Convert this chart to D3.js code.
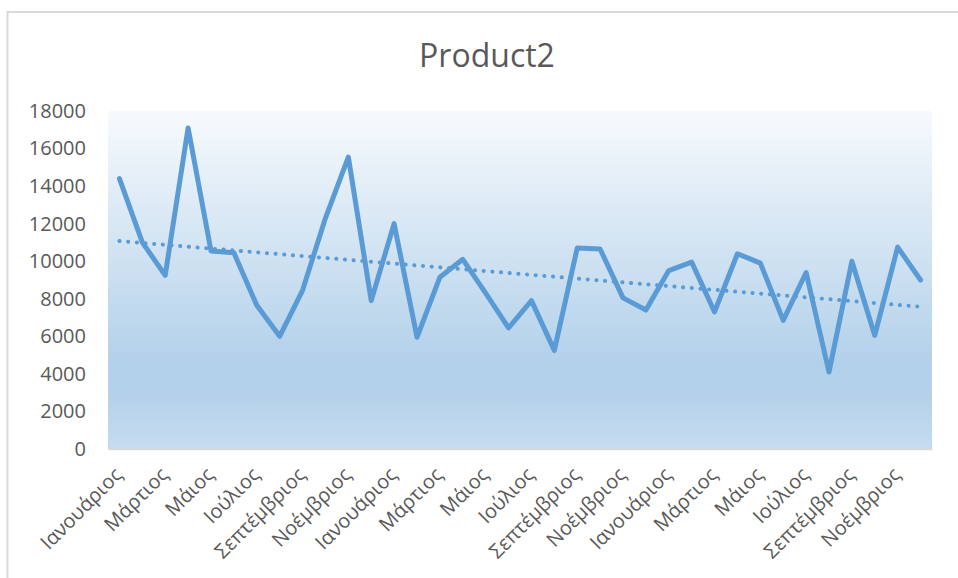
<!DOCTYPE html>
<html>
<head>
<meta charset="utf-8">
<script src="https://cdn.jsdelivr.net/npm/d3@7"></script>
<style>
  html, body { margin: 0; padding: 0; background: #fff; }
  svg { display: block; }
  text { font-family: "Open Sans", "Noto Sans", sans-serif; fill: #595959; }
</style>
</head>
<body>
<svg id="chart" width="958" height="578"></svg>
<script>
// Monthly sales of Product2 over three years
const monthNames = ["Ιανουάριος", "Φεβρουάριος", "Μάρτιος", "Απρίλιος", "Μάιος", "Ιούνιος",
                    "Ιούλιος", "Αύγουστος", "Σεπτέμβριος", "Οκτώβριος", "Νοέμβριος", "Δεκέμβριος"];
const years = [1, 2, 3];
const sales = [
  14400, 11000, 9250, 17100, 10550, 10450, 7650, 6000, 8450, 12300, 15550, 7900,
  12000, 5950, 9150, 10100, 8300, 6450, 7900, 5250, 10700, 10650, 8050, 7400,
  9500, 9950, 7300, 10400, 9900, 6850, 9400, 4100, 10000, 6050, 10750, 9000
];
const yTicks = [0, 2000, 4000, 6000, 8000, 10000, 12000, 14000, 16000, 18000];
const chartTitle = "Product2";

const categories = years.flatMap((yr) => monthNames.map((m, i) => ({ key: `${yr}-${i}`, label: m, month: i })));
const data = sales.map((v, i) => ({ cat: categories[i], value: v, i }));

const svg = d3.select("#chart");
const plot = { left: 108, right: 932, top: 111, bottom: 449 };

// Outer chart frame (extends past the visible window on the right and bottom)
svg.append("rect")
  .attr("x", 7.5).attr("y", 12)
  .attr("width", 1100).attr("height", 700)
  .attr("fill", "#fff")
  .attr("stroke", "#d9d9d9").attr("stroke-width", 2);

// Plot area gradient
const defs = svg.append("defs");
const grad = defs.append("linearGradient")
  .attr("id", "plotGrad").attr("x1", 0).attr("y1", 0).attr("x2", 0).attr("y2", 1);
[["0%", "#f7fafd"], ["74%", "#b3d1ea"], ["83%", "#b3d1ea"], ["100%", "#c6dcf0"]]
  .forEach(([o, c]) => grad.append("stop").attr("offset", o).attr("stop-color", c));

const x = d3.scaleBand()
  .domain(categories.map((c) => c.key))
  .range([plot.left, plot.right]);
const y = d3.scaleLinear()
  .domain([0, 18000])
  .range([plot.bottom, plot.top]);
const cx = (key) => x(key) + x.bandwidth() / 2;

svg.append("rect")
  .attr("x", plot.left).attr("y", plot.top)
  .attr("width", plot.right - plot.left).attr("height", plot.bottom - plot.top)
  .attr("fill", "url(#plotGrad)");

// Title
svg.append("text")
  .attr("x", 487).attr("y", 67)
  .attr("text-anchor", "middle")
  .style("font-size", "32px")
  .text(chartTitle);

// Y axis labels
const yAxis = d3.axisLeft(y).tickValues(yTicks).tickSize(0).tickPadding(0).tickFormat(d3.format("d"));
const gy = svg.append("g").attr("transform", `translate(86,0)`).call(yAxis);
gy.select(".domain").remove();
gy.selectAll("text").style("font-size", "20px").attr("fill", "#595959").style("font-family", "'Open Sans', sans-serif");

// X axis line
const xAxis = d3.axisBottom(x).tickSize(0).tickFormat("");
const gx = svg.append("g").attr("transform", `translate(0,${plot.bottom})`).call(xAxis);
gx.select(".domain").attr("stroke", "#d9d9d9").attr("stroke-width", 1.5);

// Category labels (every second month), rotated
svg.append("g").selectAll("text")
  .data(categories.filter((c, i) => i % 2 === 0))
  .join("text")
  .attr("transform", (c) => `translate(${cx(c.key) + 4},${476}) rotate(-45)`)
  .attr("text-anchor", "end")
  .style("font-size", "20px")
  .text((c) => c.label);

// Linear trend (least squares over the series)
const n = data.length;
const mx = d3.mean(data, (d) => d.i);
const my = d3.mean(data, (d) => d.value);
const slope = d3.sum(data, (d) => (d.i - mx) * (d.value - my)) / d3.sum(data, (d) => (d.i - mx) ** 2);
const intercept = my - slope * mx;
const trend = [data[0], data[n - 1]].map((d) => ({ cat: d.cat, value: intercept + slope * d.i }));

svg.append("path")
  .datum(trend)
  .attr("fill", "none")
  .attr("stroke", "#5b9bd5")
  .attr("stroke-width", 4)
  .attr("stroke-linecap", "round")
  .attr("stroke-dasharray", "0.1 8.6")
  .attr("d", d3.line().x((d) => cx(d.cat.key)).y((d) => y(d.value)));

// Sales line
svg.append("path")
  .datum(data)
  .attr("fill", "none")
  .attr("stroke", "#5b9bd5")
  .attr("stroke-width", 5)
  .attr("stroke-linejoin", "round")
  .attr("stroke-linecap", "round")
  .attr("d", d3.line().x((d) => cx(d.cat.key)).y((d) => y(d.value)));
</script>
</body>
</html>
